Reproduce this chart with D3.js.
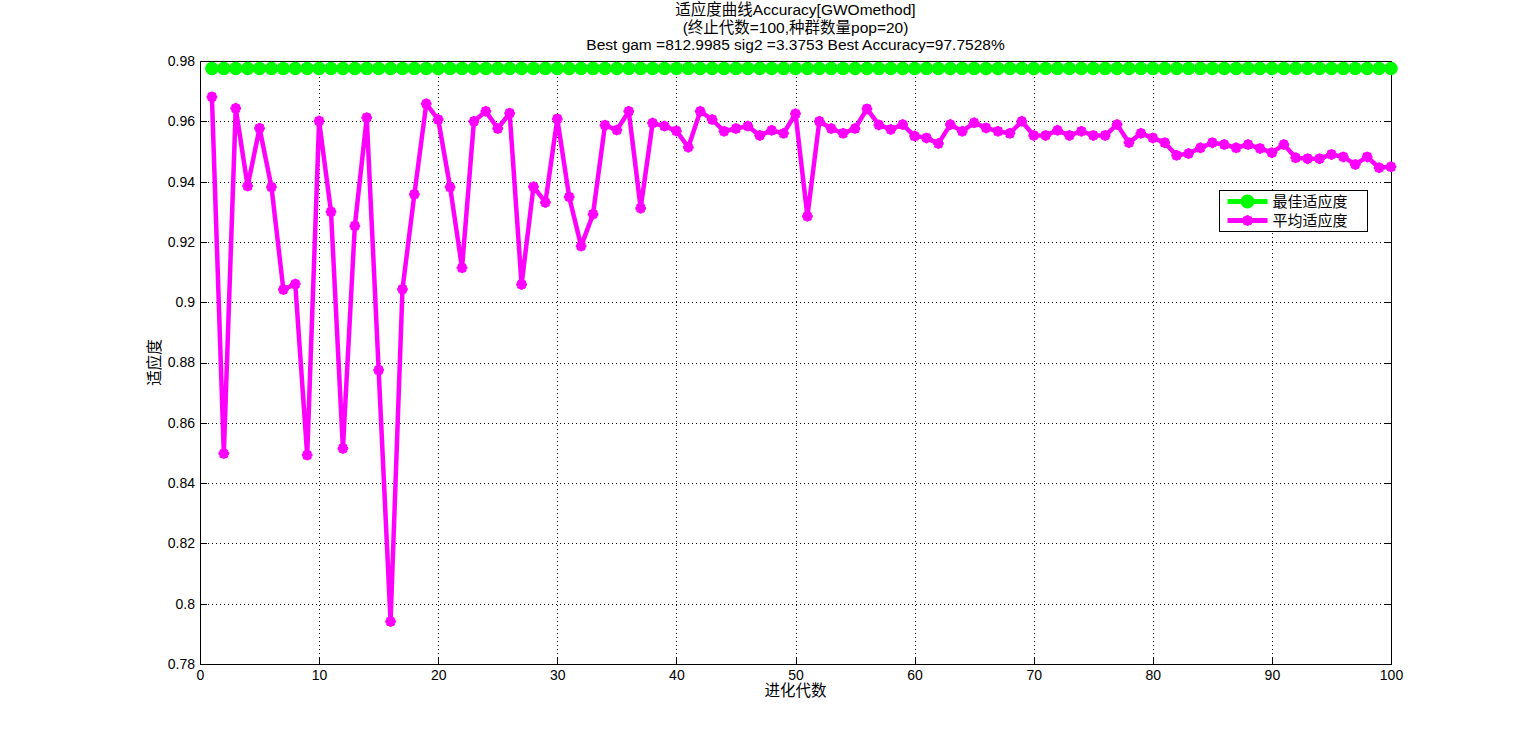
<!DOCTYPE html>
<html>
<head>
<meta charset="utf-8">
<script src="https://cdn.jsdelivr.net/npm/d3@7"></script>
<style>
  body { margin: 0; background: #fff; }
  text { font-family: "Liberation Sans", Arial, "Noto Sans CJK SC", sans-serif; fill: #000; }
</style>
</head>
<body>
<div id="chart"></div>
<script>
const titleLines = [
  '适应度曲线Accuracy[GWOmethod]',
  '(终止代数=100,种群数量pop=20)',
  'Best gam =812.9985 sig2 =3.3753 Best Accuracy=97.7528%'
];
const xTicks = [0, 10, 20, 30, 40, 50, 60, 70, 80, 90, 100];
const yTicks = [0.78, 0.8, 0.82, 0.84, 0.86, 0.88, 0.9, 0.92, 0.94, 0.96, 0.98];
const seriesNames = ['最佳适应度', '平均适应度'];

const generations = d3.range(1, 101);
const bestFitness = generations.map(() => 0.977528);
const meanFitness = [
  0.9681, 0.8498, 0.9643, 0.9385, 0.9577, 0.9382, 0.9042, 0.9060, 0.8493, 0.9601,
  0.9300, 0.8515, 0.9253, 0.9612, 0.8775, 0.7941, 0.9043, 0.9358, 0.9658, 0.9606,
  0.9382, 0.9114, 0.9600, 0.9633, 0.9576, 0.9627, 0.9059, 0.9383, 0.9331, 0.9608,
  0.9349, 0.9186, 0.9292, 0.9587, 0.9571, 0.9633, 0.9312, 0.9594, 0.9584, 0.9568,
  0.9514, 0.9633, 0.9606, 0.9567, 0.9576, 0.9584, 0.9553, 0.9570, 0.9560, 0.9625,
  0.9285, 0.9600, 0.9576, 0.9560, 0.9576, 0.9641, 0.9588, 0.9573, 0.9589, 0.9551,
  0.9545, 0.9526, 0.9589, 0.9567, 0.9595, 0.9578, 0.9567, 0.9560, 0.9600, 0.9553,
  0.9553, 0.9570, 0.9553, 0.9567, 0.9553, 0.9553, 0.9589, 0.9529, 0.9560, 0.9545,
  0.9529, 0.9487, 0.9493, 0.9512, 0.9529, 0.9523, 0.9512, 0.9523, 0.9510, 0.9496,
  0.9523, 0.9479, 0.9476, 0.9476, 0.9490, 0.9482, 0.9457, 0.9482, 0.9446, 0.9449
];

const width = 1537, height = 746;
const margin = { left: 200, right: 146, top: 61, bottom: 82 };

const svg = d3.select('#chart').append('svg')
  .attr('width', width)
  .attr('height', height);

const x = d3.scaleLinear().domain([0, 100]).range([margin.left, width - margin.right]);
const y = d3.scaleLinear().domain([0.78, 0.98]).range([height - margin.bottom, margin.top]);

// grid (dotted)
const grid = svg.append('g').attr('stroke', '#000').attr('stroke-width', 1)
  .attr('stroke-dasharray', '1,3').attr('shape-rendering', 'crispEdges');
grid.selectAll('.gx').data(xTicks.slice(1, -1)).enter().append('line')
  .attr('x1', d => Math.round(x(d)) + 0.5).attr('x2', d => Math.round(x(d)) + 0.5)
  .attr('y1', y(0.98)).attr('y2', y(0.78));
grid.selectAll('.gy').data(yTicks.slice(1, -1)).enter().append('line')
  .attr('y1', d => Math.round(y(d)) + 0.5).attr('y2', d => Math.round(y(d)) + 0.5)
  .attr('x1', x(0)).attr('x2', x(100));

// axes with inward ticks on all sides
const fmtY = d => String(+d.toFixed(2));
function styleAxis(g) {
  g.select('.domain').remove();
  g.selectAll('line').attr('stroke', '#000').attr('shape-rendering', 'crispEdges');
  g.selectAll('text').attr('font-size', 14);
}
svg.append('g').attr('transform', `translate(0,${y(0.78)})`)
  .call(d3.axisBottom(x).tickValues(xTicks).tickSize(-7).tickPadding(6))
  .call(styleAxis);
svg.append('g').attr('transform', `translate(0,${y(0.98)})`)
  .call(d3.axisTop(x).tickValues(xTicks).tickSize(-7).tickFormat(''))
  .call(styleAxis);
svg.append('g').attr('transform', `translate(${x(0)},0)`)
  .call(d3.axisLeft(y).tickValues(yTicks).tickSize(-7).tickPadding(5).tickFormat(fmtY))
  .call(styleAxis);
svg.append('g').attr('transform', `translate(${x(100)},0)`)
  .call(d3.axisRight(y).tickValues(yTicks).tickSize(-7).tickFormat(''))
  .call(styleAxis);

svg.append('rect')
  .attr('x', x(0) + 0.5).attr('y', y(0.98) + 0.5)
  .attr('width', x(100) - x(0)).attr('height', y(0.78) - y(0.98))
  .attr('fill', 'none').attr('stroke', '#000').attr('shape-rendering', 'crispEdges');

// lines
const line = d3.line().x(d => x(d[0])).y(d => y(d[1]));
const bestData = generations.map((g, i) => [g, bestFitness[i]]);
const meanData = generations.map((g, i) => [g, meanFitness[i]]);

// matlab-style '*' marker: + and x overlaid
const r = 3.5, k = r * Math.SQRT1_2;
const asterisk = `M${-r},0L${r},0M0,${-r}L0,${r}M${-k},${-k}L${k},${k}M${-k},${k}L${k},${-k}`;

svg.append('path').datum(bestData).attr('d', line)
  .attr('fill', 'none').attr('stroke', '#00ff00').attr('stroke-width', 6);
svg.append('g').selectAll('circle').data(bestData).enter().append('circle')
  .attr('cx', d => x(d[0])).attr('cy', d => y(d[1])).attr('r', 5.8)
  .attr('fill', '#00ff00').attr('stroke', '#00ff00').attr('stroke-width', 2);

svg.append('path').datum(meanData).attr('d', line)
  .attr('fill', 'none').attr('stroke', '#ff00ff').attr('stroke-width', 4.5)
  .attr('stroke-linejoin', 'round');
svg.append('g').selectAll('path').data(meanData).enter().append('path')
  .attr('d', asterisk)
  .attr('transform', d => `translate(${x(d[0])},${y(d[1])})`)
  .attr('fill', 'none').attr('stroke', '#ff00ff').attr('stroke-width', 4)
  .attr('stroke-linecap', 'round');

// title
svg.append('g').selectAll('text').data(titleLines).enter().append('text')
  .attr('x', (x(0) + x(100)) / 2).attr('y', (d, i) => 15 + i * 17.5)
  .attr('text-anchor', 'middle').attr('font-size', 15.5).text(d => d);

// axis labels
svg.append('text').attr('x', (x(0) + x(100)) / 2).attr('y', 696)
  .attr('text-anchor', 'middle').attr('font-size', 15.5).text('进化代数');
svg.append('text').attr('transform', `translate(160,${(y(0.78) + y(0.98)) / 2}) rotate(-90)`)
  .attr('text-anchor', 'middle').attr('font-size', 15.5).text('适应度');

// legend
const legend = svg.append('g').attr('transform', 'translate(1219.5,190.5)');
legend.append('rect').attr('width', 148).attr('height', 41)
  .attr('fill', '#fff').attr('stroke', '#000').attr('shape-rendering', 'crispEdges');
const legendColors = ['#00ff00', '#ff00ff'];
seriesNames.forEach((name, i) => {
  const ly = 11 + i * 19;
  legend.append('line').attr('x1', 8).attr('x2', 48).attr('y1', ly).attr('y2', ly)
    .attr('stroke', legendColors[i]).attr('stroke-width', 5);
  if (i === 0) {
    legend.append('circle').attr('cx', 28).attr('cy', ly).attr('r', 6)
      .attr('fill', legendColors[i]).attr('stroke', legendColors[i]).attr('stroke-width', 2);
  } else {
    legend.append('path').attr('d', asterisk).attr('transform', `translate(28,${ly})`)
      .attr('fill', 'none').attr('stroke', legendColors[i]).attr('stroke-width', 4)
      .attr('stroke-linecap', 'round');
  }
  legend.append('text').attr('x', 53).attr('y', ly + 5.5).attr('font-size', 15)
    .attr('font-family', '"Noto Sans CJK SC", sans-serif').text(name);
});
</script>
</body>
</html>
